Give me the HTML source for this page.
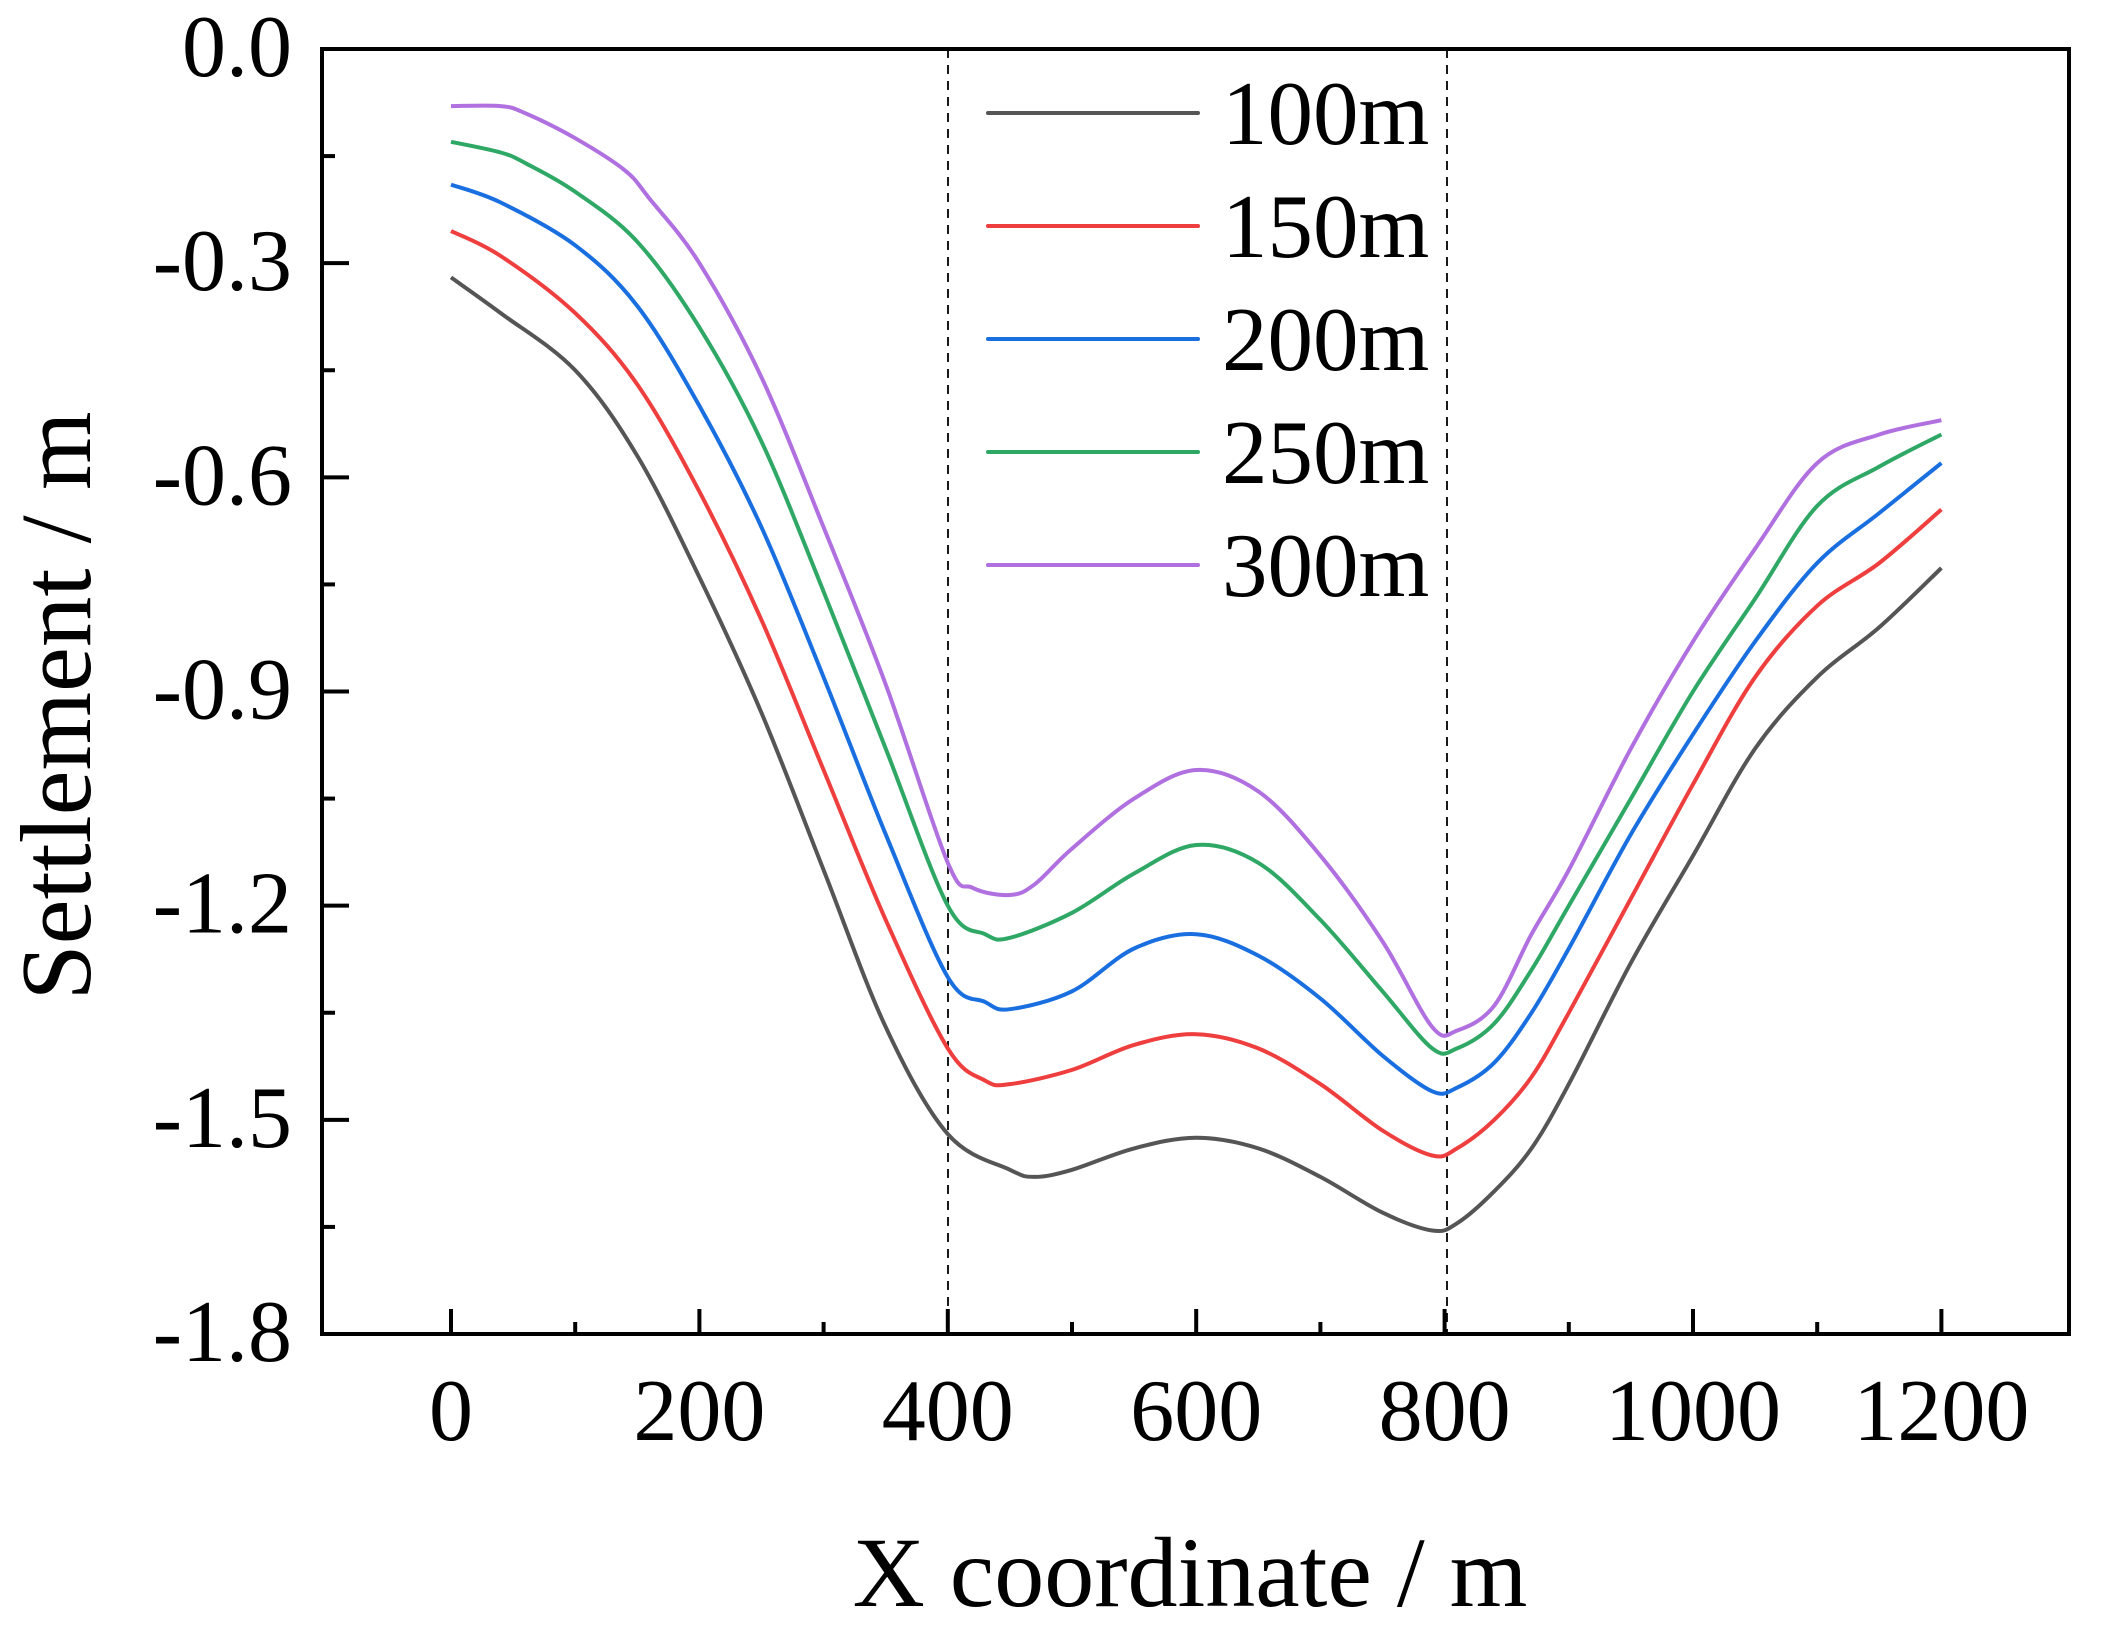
<!DOCTYPE html>
<html><head><meta charset="utf-8"><style>
html,body{margin:0;padding:0;background:#fff;}
svg{display:block;}
text{font-family:"Liberation Serif",serif;fill:#000;}
</style></head><body>
<svg id="s" width="2104" height="1652" xmlns="http://www.w3.org/2000/svg"></svg>
<script>
const s=document.getElementById('s');
const X0=451,XS=1.242,Y0=49,YS=1285/1.8;
const L=322,R=2069,T=49,B=1334;
const px=x=>X0+x*XS, py=v=>Y0-v*YS;
let h='';
const data={
'#555555':[[0,-0.32],[40,-0.37],[100,-0.45],[150,-0.57],[200,-0.74],[250,-0.93],[300,-1.15],[350,-1.37],[400,-1.52],[450,-1.57],[470,-1.58],[500,-1.57],[550,-1.54],[600,-1.525],[650,-1.54],[700,-1.58],[750,-1.63],[790,-1.655],[810,-1.645],[840,-1.60],[870,-1.54],[900,-1.45],[950,-1.28],[1000,-1.13],[1050,-0.98],[1100,-0.88],[1150,-0.81],[1200,-0.727]],
'#ee3e3e':[[0,-0.255],[40,-0.29],[100,-0.37],[150,-0.47],[200,-0.62],[250,-0.80],[300,-1.01],[350,-1.22],[400,-1.40],[430,-1.445],[450,-1.45],[500,-1.43],[550,-1.395],[600,-1.38],[650,-1.40],[700,-1.45],[750,-1.515],[790,-1.55],[810,-1.54],[840,-1.50],[870,-1.44],[900,-1.35],[950,-1.19],[1000,-1.03],[1050,-0.88],[1100,-0.78],[1150,-0.72],[1200,-0.645]],
'#1a6fe0':[[0,-0.19],[40,-0.215],[100,-0.275],[150,-0.36],[200,-0.50],[250,-0.67],[300,-0.88],[350,-1.10],[400,-1.30],[430,-1.335],[450,-1.345],[500,-1.32],[550,-1.26],[600,-1.24],[650,-1.27],[700,-1.33],[750,-1.41],[790,-1.46],[810,-1.455],[840,-1.42],[870,-1.35],[900,-1.26],[950,-1.10],[1000,-0.96],[1050,-0.83],[1100,-0.72],[1150,-0.65],[1200,-0.58]],
'#2fa866':[[0,-0.13],[40,-0.145],[60,-0.16],[100,-0.20],[150,-0.27],[200,-0.39],[250,-0.55],[300,-0.76],[350,-0.98],[400,-1.20],[430,-1.24],[450,-1.245],[500,-1.21],[550,-1.155],[600,-1.115],[650,-1.14],[700,-1.22],[750,-1.32],[790,-1.40],[810,-1.40],[840,-1.365],[870,-1.29],[900,-1.20],[950,-1.05],[1000,-0.90],[1050,-0.77],[1100,-0.64],[1150,-0.585],[1200,-0.54]],
'#b070e0':[[0,-0.08],[40,-0.08],[60,-0.09],[100,-0.125],[140,-0.17],[160,-0.21],[200,-0.30],[250,-0.46],[300,-0.67],[350,-0.89],[400,-1.14],[420,-1.175],[450,-1.185],[470,-1.17],[500,-1.12],[550,-1.05],[600,-1.01],[650,-1.04],[700,-1.13],[750,-1.25],[790,-1.37],[810,-1.375],[840,-1.34],[870,-1.24],[900,-1.15],[950,-0.98],[1000,-0.83],[1050,-0.70],[1100,-0.58],[1150,-0.54],[1200,-0.52]]};
function smooth(pts){
 const P=pts.map(p=>[px(p[0]),py(p[1])]);
 let d=`M${P[0][0].toFixed(1)},${P[0][1].toFixed(1)}`;
 for(let i=0;i<P.length-1;i++){
  const p0=P[i-1]||P[i],p1=P[i],p2=P[i+1],p3=P[i+2]||P[i+1];
  const c1=[p1[0]+(p2[0]-p0[0])/6,p1[1]+(p2[1]-p0[1])/6];
  const c2=[p2[0]-(p3[0]-p1[0])/6,p2[1]-(p3[1]-p1[1])/6];
  d+=` C${c1[0].toFixed(1)},${c1[1].toFixed(1)} ${c2[0].toFixed(1)},${c2[1].toFixed(1)} ${p2[0].toFixed(1)},${p2[1].toFixed(1)}`;
 }
 return d;
}
[948,1447].forEach(x=>h+=`<line x1="${x}" y1="${T}" x2="${x}" y2="${B}" stroke="#000" stroke-width="1.8" stroke-dasharray="9,7"/>`);
for(const c in data){h+=`<path fill="none" stroke="${c}" stroke-width="4" stroke-linejoin="round" d="${smooth(data[c])}"/>`;}
h+=`<rect x="${L}" y="${T}" width="${R-L}" height="${B-T}" fill="none" stroke="#000" stroke-width="4"/>`;
for(let i=0;i<=12;i++){const v=-0.15*i,y=py(v),maj=i%2==0;h+=`<line x1="${L}" y1="${y}" x2="${L+(maj?27:13)}" y2="${y}" stroke="#000" stroke-width="4"/>`;
 if(maj)h+=`<text x="292" y="${y+27}" font-size="88" text-anchor="end">${i==0?'0.0':'-'+(0.15*i).toFixed(1)}</text>`;}
for(let x=0;x<=1200;x+=100){const xx=px(x),maj=x%200==0;h+=`<line x1="${xx}" y1="${B}" x2="${xx}" y2="${B-(maj?25:12)}" stroke="#000" stroke-width="4"/>`;
 if(maj)h+=`<text x="${xx}" y="1440" font-size="88" text-anchor="middle">${x}</text>`;}
const cols=Object.keys(data),labs=['100m','150m','200m','250m','300m'],ly=[113,226,339,452,565];
cols.forEach((c,i)=>{h+=`<line x1="988" y1="${ly[i]}" x2="1198" y2="${ly[i]}" stroke="${c}" stroke-width="4" stroke-linecap="round"/><text x="1222" y="${ly[i]+31}" font-size="91">${labs[i]}</text>`;});
h+=`<text x="1190" y="1606" font-size="100" text-anchor="middle">X coordinate / m</text>`;
h+=`<text transform="translate(90,706) rotate(-90)" font-size="101" text-anchor="middle">Settlement / m</text>`;
s.innerHTML=h;
</script>
</body></html>
